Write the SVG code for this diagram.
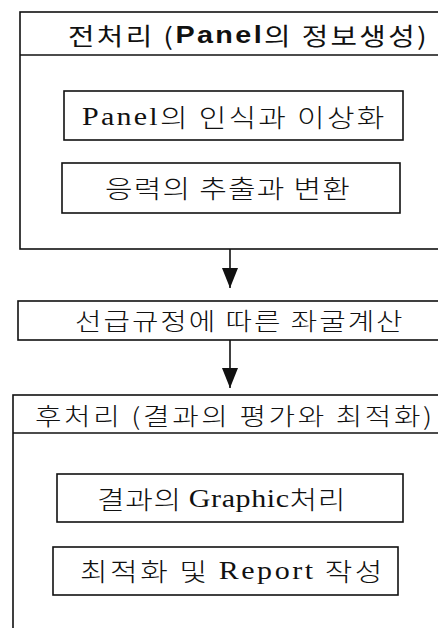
<svg xmlns="http://www.w3.org/2000/svg" width="438" height="628" viewBox="0 0 438 628">
<style>
.box{fill:none;stroke:#111;stroke-width:1.6}
.line{stroke:#111;stroke-width:1.6;fill:none}
text{dominant-baseline:central;fill:#111}
.hd{font-family:"Noto Sans CJK KR","Noto Sans",sans-serif;font-size:24px;font-weight:400}
.in{font-family:"Noto Sans CJK KR","Noto Sans",sans-serif;font-size:25px;font-weight:300}
.se{font-family:"Liberation Serif","Noto Sans CJK KR",serif;font-weight:400}
.b{font-family:"Liberation Sans","Noto Sans CJK KR",sans-serif;font-weight:bold}
</style>
<defs>
<marker id="ah" markerWidth="20" markerHeight="16" refX="20" refY="8" orient="auto" markerUnits="userSpaceOnUse" viewBox="0 0 20 16">
<path d="M0,0 L20,8 L0,16 Z" fill="#111"/>
</marker>
</defs>
<rect width="438" height="628" fill="#fff"/>
<g id="pre">
<rect class="box" x="20" y="12" width="430" height="237"/>
<line class="line" x1="20" y1="55" x2="450" y2="55"/>
<text class="hd" transform="translate(68,35) scale(1.2,1)" textLength="299" lengthAdjust="spacing">전처리 (<tspan class="b">Panel</tspan>의 정보생성)</text>
</g>
<g id="pre1">
<rect class="box" x="64" y="91" width="339" height="49"/>
<text class="in" transform="translate(82,116) scale(1.2,1)" textLength="252" lengthAdjust="spacing"><tspan class="se">Panel</tspan>의 인식과 이상화</text>
</g>
<g id="pre2">
<rect class="box" x="62" y="163" width="338" height="50"/>
<text class="in" transform="translate(105,187) scale(1.2,1)" textLength="204" lengthAdjust="spacing">응력의 추출과 변환</text>
</g>
<g id="calc">
<rect class="box" x="18" y="301" width="432" height="39"/>
<text class="in" transform="translate(75,320) scale(1.2,1)" textLength="273" lengthAdjust="spacing" style="font-size:24px">선급규정에 따른 좌굴계산</text>
</g>
<g id="post">
<rect class="box" x="13" y="395" width="437" height="250"/>
<line class="line" x1="13" y1="433" x2="450" y2="433"/>
<text class="hd" transform="translate(35,415) scale(1.2,1)" textLength="331" lengthAdjust="spacing" style="font-weight:300">후처리 (결과의 평가와 최적화)</text>
</g>
<g id="post1">
<rect class="box" x="57" y="474" width="346" height="48"/>
<text class="in" transform="translate(97,498) scale(1.2,1)" textLength="207" lengthAdjust="spacing">결과의 <tspan class="se">Graphic</tspan>처리</text>
</g>
<g id="post2">
<rect class="box" x="53" y="547" width="345" height="48"/>
<text class="in" transform="translate(80,570) scale(1.2,1)" textLength="252" lengthAdjust="spacing">최적화 및 <tspan class="se">Report</tspan> 작성</text>
</g>
<g id="connectors">
<line class="line" x1="230" y1="249" x2="230" y2="288" marker-end="url(#ah)"/>
<line class="line" x1="230" y1="340" x2="230" y2="388" marker-end="url(#ah)"/>
</g>
</svg>
